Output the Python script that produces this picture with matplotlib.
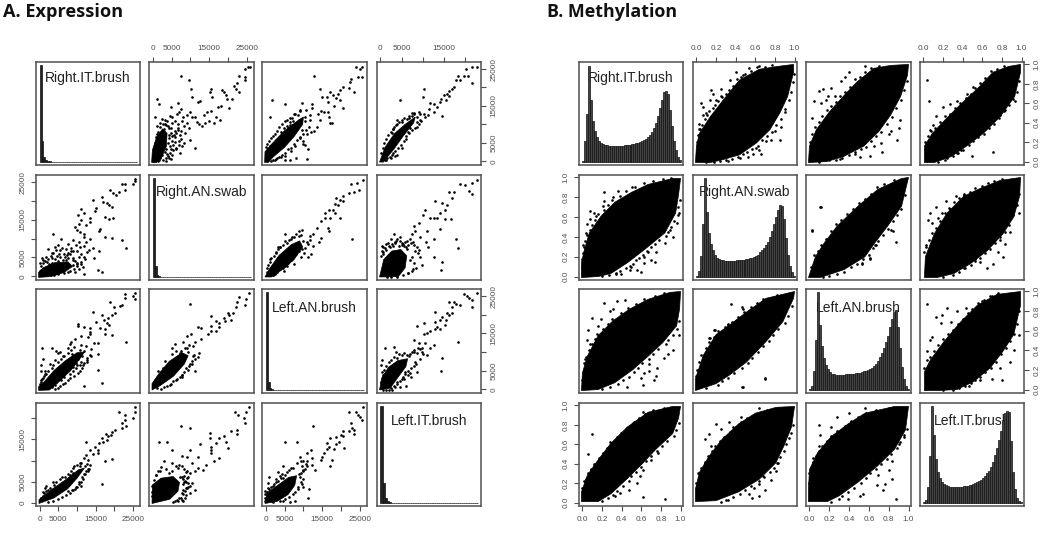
import numpy as np
import matplotlib
matplotlib.use('Agg')
import matplotlib.pyplot as plt

W, H = 1050, 533
GRAY = '#505050'

names = ['Right.IT.brush', 'Right.AN.swab', 'Left.AN.brush', 'Left.IT.brush']

# --- expression: upper triangle pairs, x is the later sample, y the earlier one
ran_rit_x = [25400,24500,25800,24500,24500,22900,22500,21700,22100,22800,7500,9700,10100,10300,15400,15200,15800,18500,18900,19500,19600,21000,20300,18200,17300,12600,11900,1200,1600,600,6600,4900,7400,14300,15400,13600,16800,17900,16400,15000,13900,13000,12400,11100,9900,10400,11200,9000,11700,9500,8600,9900,7700,7300,4800,3500,
             4000,5000,6000,5200,6800,5800,7200,6000,5000,7800,8400,6500,7000,8000,4500,3800,3300,5600,7000,8300,6200,4800,3800,5200,4300,4900,6600,7500,9000,4400]
ran_rit_y = [25660,25130,25500,22800,22100,23000,21150,20350,19700,18900,23200,21950,19500,17400,19550,18700,17500,19300,18700,18050,16900,16800,14400,15000,14700,16300,16000,16800,15600,12000,15800,14600,14250,13400,13600,12500,11900,11150,10250,11000,10450,9560,10100,3600,13400,12000,11900,12500,10700,8900,7600,5800,4100,2300,500,100,
             9500,10500,11000,12000,9000,8200,7000,6500,5500,10800,9600,12800,13300,12000,12200,11000,10000,7200,5500,5000,3600,3300,2000,1800,800,9000,10000,8300,10500,7000]
ran_rit_x += [200,500,900,1500,2000,2800,3300,4200,4800,1200,1800,2400,3000,3600,4400,5200,5800,600,1000,1600,2200,2900,3500,4100,4700,5400,6100,6800,7600,2000,2700,3400,4000,4600,5500,6300,7000,300,1300,1700,2500,3200,900,1500,2100]
ran_rit_y += [3800,5000,6500,8000,9300,10000,11200,9000,7600,9500,10500,11500,8800,9900,6200,6800,5200,1200,7500,4200,2000,6200,3200,5000,4100,3000,7700,8400,6000,800,300,1000,1500,2300,4500,3300,4300,100,200,300,1800,2600,4200,2500,3500]
ran_rit_core_x = [-300,-100,1000,2600,3800,3600,2300,1000]
ran_rit_core_y = [-300,3000,6500,8800,7600,4000,1000,-300]

lan_rit_x = [24100,25700,25100,24500,25600,12800,22700,22300,22100,23500,20400,19800,19200,17200,17900,18700,19800,14900,16300,16500,18100,20600,14500,15400,16500,14800,13900,16800,17000,17500,14300,13500,12100,12800,12300,12400,9500,5200,1600,1000,11200,11000,8000,6500,5000,9900,10300,7400,6400,9000,10800,11700,10400,
             8800,8000,7000,6000,10500,9500,9000,5000,4000,3000,2500,1500,11000,9800,7800,6800]
lan_rit_y = [25660,25500,25100,22900,22900,23200,22200,21500,19800,18800,20200,19300,18200,18700,18000,17200,16700,17500,17500,16200,15100,14400,19500,13400,13400,13500,12900,11900,10250,10250,11150,9400,8050,8300,15600,14500,15750,15600,16700,12000,3400,530,970,350,350,5400,4300,12700,11600,13800,13800,12500,12000,
             11300,10300,9800,9000,10800,8600,6500,1500,1300,1000,300,200,7500,4800,4200,2700]
lan_rit_x += [100,400,800,1300,1800,2400,3000,3600,4300,5000,5700,6400,7100,7800,8500,9200,2000,2800,3500,4200,5000,5800,6600,7400,8200,9000,9800,10600,11400,11800,600,1200,1900,2600,3400,4100,4900,5600,6500,7300]
lan_rit_y += [4000,4800,5400,6200,6800,7500,8200,9200,10200,10800,11300,10700,11800,12800,12600,13500,300,500,1200,1800,2300,3200,3500,4800,5700,6200,7500,8400,9300,11200,3300,4100,3900,5800,6600,8000,8900,9600,9900,11000]
lan_rit_core_x = [-300,-200,1500,5000,8500,10000,9800,7600,5000,2000,700]
lan_rit_core_y = [-300,2600,4600,8300,11000,12000,10000,6800,3800,1200,-300]

lit_rit_x = [20200,21500,22800,21600,20700,19600,18800,17800,18300,17200,16800,16100,15700,16200,14900,14300,14100,15400,14500,13300,12500,11700,11500,12500,10300,10000,4500,11300,10200,9000,8000,9400,8600,4000,3700,7000,10500,
             2700,3000,5000,6800,7500,8600,3000,3500,6000,6500,5000,1200,2500,4000]
lit_rit_y = [25100,25660,25500,21200,23000,23000,22100,22000,23100,20200,19500,19100,18200,17800,18000,16900,16000,16600,12300,14700,15600,15750,14250,13400,19500,17500,16700,12500,12900,13400,12900,11150,10700,11150,9800,8900,12000,
             7600,8700,10600,11800,12400,9200,2300,1500,6800,8000,3500,300,1000,1800]
lit_rit_x += [100,500,900,1400,1900,2400,2900,3300,3800,4400,5000,5600,6200,6800,7400,8000,8600,9200,1000,1600,2200,2800,3500,4100,4800,5500,6100,6800,7500,8200,9000,9500]
lit_rit_y += [2200,3600,4900,6000,7000,8000,8800,9400,10100,10600,11100,11600,11400,12200,13000,13200,12100,12700,300,800,1200,1700,2800,3700,4400,5400,6000,7700,8400,9000,10000,10900]
lit_rit_core_x = [-200,1100,3300,5800,8200,7800,5400,3300,700]
lit_rit_core_y = [-200,3800,7500,10000,12000,10400,6900,3500,-200]

lan_ran_x = [25800,24250,22600,24800,23400,22100,20500,19800,18600,18300,19200,20500,16800,17900,18300,15700,14800,15700,17000,19600,16800,16500,13500,12600,11700,22900,14800,14200,12600,12100,11100,9600,5000,3300,11200,9900,
             1200,2600,3800,6800,8800,10200,7600,9400,5600,4800,2500]
lan_ran_y = [25600,24700,24400,23000,22500,22100,21200,20200,20800,19200,18900,19900,17700,17700,16900,16900,14700,15500,15500,15400,12100,12900,12900,11200,10700,9800,10100,9000,7950,5900,5100,12200,11200,7250,8600,9400,
             4500,6300,7800,10000,10600,6200,3300,5000,2600,1400,700]
lan_ran_x += [200,600,1000,1500,2100,2700,3300,3900,4500,5100,5700,6300,6900,7500,8100,8700,9300,1800,2400,3100,3800,4500,5200,5900,6600,7300,8000,8800,9600,10400,11000,11800,1200,2000,400]
lan_ran_y += [2200,3000,3700,4800,5500,6500,7700,7900,8300,9400,8900,9700,10300,10500,11300,12000,11000,300,800,1200,1800,2200,2800,3400,4400,5300,5800,6800,7200,7600,9000,9700,400,300,1000]
lan_ran_core_x = [-200,1000,3500,6800,9000,9800,7500,4000,1500]
lan_ran_core_y = [-200,2000,5500,8400,9400,7800,4400,1500,-200]

lit_ran_x = [22750,21600,20000,18800,20800,21600,17200,16200,16900,12900,14500,15700,15300,14100,10600,10000,12500,13300,15300,16600,11700,9000,7800,8200,7400,3100,13900,10900,9400,12500,11100,17800,18300,12500,14500,14300,2300,8600,9400,6200,4600,10800,
             8000,7200,9000,6000,5000,3400,7400,6600,300,600,1200,9800,8400]
lit_ran_y = [25600,24700,24300,24500,22700,21900,22500,22300,20800,20100,19500,18900,17700,16900,17700,16400,15500,15400,15100,15300,15400,14200,13400,12100,11200,11200,12500,12100,10300,9900,7700,9800,7400,5100,3800,1750,7700,7700,5100,9400,9400,9000,
             8200,8800,6900,7800,8800,9200,1300,800,8000,6500,7000,3000,2300]
lit_ran_x += [100,300,700,1200,1800,2400,3000,3500,4000,4600,5200,5800,6400,7000,7600,8200,8800,500,1000,2100,2800,3600,4400,5000,5600,6200,7000,7500,7900,1500,2600,3900,5300,6500,7600]
lit_ran_y += [5500,6800,7900,8600,8900,9800,8100,8700,9900,10400,8600,9100,8200,9800,9000,6800,6200,6000,7400,8000,8500,9300,8000,8300,8000,7200,4400,5200,3600,-100,-150,-200,200,800,1900]
lit_ran_core_x = [-200,800,2700,4800,6200,5800,4200,-200]
lit_ran_core_y = [-200,4500,6700,7100,5400,2200,-100,-200]

lit_lan_x = [22750,19600,20400,20900,21600,21600,16200,17200,17700,18800,16900,12900,16900,15700,16100,14500,15500,13900,12800,15300,14100,13300,12800,11700,10900,10200,8600,10200,7800,9000,12500,11700,10900,9800,10600,18300,14500,14300,1000,3200,3700,300,250,300,6100,4600,8600,6900,5800,
             8800,7800,7000,8200,10000,9400,5600,6400,7200]
lit_lan_y = [25900,25500,25000,24500,24000,22050,23500,23500,23000,22600,22200,20800,20400,20400,19900,19500,18600,18600,18100,17200,16300,16800,16300,15600,15000,17700,17000,14700,13200,12300,11900,11000,9200,11000,12300,12600,8300,5000,11200,11400,9900,7900,6500,4700,900,700,4700,4300,4500,
             11000,10000,9400,7200,9400,8200,2700,3800,3300]
lit_lan_x += [100,500,900,1400,2000,2600,3200,3800,4400,5000,5600,6200,6800,7400,8000,8600,9200,9800,2600,3200,3800,4500,5200,5900,6600,7200,7800,8300,2000,2800,3500,500,1200,4000,5000]
lit_lan_y += [2000,3700,5200,6300,7200,7900,8600,8500,9500,9300,9800,9100,8900,9900,10500,9600,10800,9900,300,800,1500,2300,3300,4000,5000,5600,6300,6800,-100,-150,500,-100,-200,2000,2700]
lit_lan_core_x = [-200,300,1900,4100,6400,6000,4000,2300]
lit_lan_core_y = [-200,3000,5900,7700,8200,6100,3000,300]

# expression histograms, share of panel height for bins of 500
hist_rit = [.94,.2,.05,.02,.01,.005] + [0]*46
hist_ran = [.94,.1,.02,.005] + [0]*48
hist_lan = [.94,.07,.02,.005] + [0]*48
hist_lit = [.94,.19,.05,.02,.01] + [0]*41

# --- methylation, same pairing
m_ran_rit_core_x = [-.01,0,.03,.14,.27,.44,.64,.83,.99,.99,.93,.85,.75,.61,.44,.27,.14]
m_ran_rit_core_y = [-.01,.16,.29,.46,.63,.84,.95,.98,1,.92,.67,.5,.33,.19,.07,.02,-.01]
m_ran_rit_x = [.05,.03,.15,.17,.25,.4,.34,.25,.14,.07,.1,.2,.07,.03,.47,.54,.64,.86,.85,.76,.66,.64,.53,.32,.8,.71,.61,.58,.44,.9]
m_ran_rit_y = [.6,.39,.74,.7,.75,.92,.84,.67,.63,.56,.5,.63,.48,.34,.89,.96,.98,.36,.22,.22,.08,.12,.05,.01,.31,.21,.14,.08,.04,.51]
m_ran_rit_x += [.01,.02,.04,.06,.09,.11,.13,.17,.19,.22,.26,.3,.33,.37,.41,.45,.5,.56,.62,.7,.77,.1,.18,.24,.3,.36,.42,.47,.52,.57,.63,.67,.72,.77,.81,.86,.9,.94,.96,.98,.995]
m_ran_rit_y += [.2,.27,.34,.38,.44,.48,.52,.55,.58,.62,.66,.7,.74,.78,.85,.87,.9,.93,.97,.97,.99,-.005,0,.005,.015,.03,.05,.08,.1,.13,.16,.22,.26,.3,.38,.44,.54,.63,.72,.82,.9]

m_lan_rit_core_x = [-.01,0,.07,.2,.34,.48,.65,.82,1,.99,.92,.82,.7,.55,.34,.17]
m_lan_rit_core_y = [-.01,.16,.33,.51,.67,.82,.96,.99,1,.89,.67,.48,.31,.16,.05,0]
m_lan_rit_x = [.05,.03,.1,.14,.17,.22,.32,.4,.56,.36,.26,.19,.12,.9,.88,.82,.8,.73,.61,.51,.46,.72,.65,.91,.31]
m_lan_rit_y = [.62,.45,.73,.75,.63,.76,.83,.92,.98,.87,.68,.68,.6,.35,.22,.31,.28,.1,.06,.05,.08,.19,.16,.43,.03]
m_lan_rit_x += [.01,.03,.06,.1,.13,.18,.22,.27,.31,.36,.41,.46,.51,.56,.62,.7,.1,.2,.27,.33,.4,.46,.52,.57,.62,.67,.72,.78,.83,.87,.92,.95,.98]
m_lan_rit_y += [.2,.28,.36,.41,.47,.53,.57,.61,.68,.72,.77,.85,.87,.92,.96,.98,-.005,.015,.02,.035,.07,.1,.13,.15,.21,.26,.3,.39,.46,.55,.63,.74,.83]

m_lit_rit_core_x = [.01,.01,.09,.24,.41,.55,.71,.87,.99,.99,.93,.78,.61,.44,.28,.11]
m_lit_rit_core_y = [-.01,.16,.29,.45,.62,.75,.92,.98,1,.92,.67,.46,.29,.16,.05,-.01]
m_lit_rit_x = [.04,.06,.2,.27,.13,.1,.07,.71,.5,.93,.83,.78,.34,.44,.51,.38,.34,.24]
m_lit_rit_y = [.84,.62,.56,.59,.47,.38,.33,.1,.06,.62,.53,.48,.62,.7,.77,.12,.09,.04]
m_lit_rit_x += [.02,.05,.08,.12,.17,.22,.27,.32,.37,.43,.48,.53,.58,.63,.69,.75,.82,.15,.22,.3,.35,.4,.46,.51,.56,.62,.67,.72,.77,.82,.87,.91,.95,.97]
m_lit_rit_y += [.2,.26,.31,.35,.41,.47,.49,.55,.6,.65,.7,.76,.81,.86,.93,.95,.98,-.005,.02,.06,.09,.12,.17,.21,.25,.28,.35,.39,.45,.52,.58,.64,.72,.83]

m_lan_ran_core_x = [-.01,.06,.15,.28,.49,.69,.93,1,.93,.79,.66,.56,.35,.11]
m_lan_ran_core_y = [-.01,.2,.34,.51,.71,.88,.99,1,.71,.51,.34,.2,.07,-.01]
m_lan_ran_x = [.12,.03,.61,.87,.82,.67,.53,.84,.11,.61,.66,.53,.53,.03]
m_lan_ran_y = [.7,.47,.19,.35,.47,.32,.13,.46,.7,.18,.32,.14,.22,.46]
m_lan_ran_x += [.02,.05,.09,.12,.17,.22,.27,.32,.38,.44,.5,.56,.62,.68,.75,.85,.14,.2,.28,.35,.42,.48,.54,.6,.64,.69,.74,.79,.84,.88,.92,.96]
m_lan_ran_y += [.1,.22,.26,.32,.38,.46,.53,.57,.63,.68,.74,.78,.83,.9,.93,.97,-.005,.01,.03,.05,.1,.13,.18,.22,.29,.36,.42,.48,.56,.62,.68,.82]

m_lit_ran_core_x = [.01,.02,.11,.24,.41,.58,.78,.99,.98,.92,.81,.65,.48,.31,.14]
m_lit_ran_core_y = [-.01,.2,.43,.64,.81,.89,.97,1,.81,.6,.43,.26,.13,.03,-.01]
m_lit_ran_x = [.23,.13,.07,.05,.03,.09,.19,.33,.41,.8,.9,.97,.81,.76,.71,.65,.58,.53,.88,.83,.78,.41,.26,.15]
m_lit_ran_y = [.76,.7,.64,.57,.32,.54,.64,.81,.82,.98,.67,.64,.2,.25,.13,.09,.15,.18,.45,.33,.37,.09,.69,.59]
m_lit_ran_x += [.01,.03,.06,.09,.13,.17,.22,.27,.31,.36,.41,.47,.53,.6,.66,.72,.2,.3,.36,.42,.48,.53,.58,.63,.68,.73,.78,.83,.87,.91,.95,.97]
m_lit_ran_y += [.25,.3,.37,.44,.49,.56,.64,.68,.75,.79,.83,.85,.89,.91,.94,.96,-.005,.02,.05,.09,.12,.16,.19,.24,.28,.34,.4,.45,.52,.62,.72,.83]

m_lit_lan_core_x = [.01,.01,.07,.21,.38,.55,.75,.99,.99,.92,.81,.68,.51,.34,.14]
m_lit_lan_core_y = [-.01,.18,.3,.49,.69,.86,.97,1,.86,.56,.39,.22,.08,0,-.01]
m_lit_lan_x = [.04,.13,.19,.24,.34,.43,.6,.7,.07,.04,.09,.18,.28,.8,.7,.78,.92,.97,.88,.61,.58,.46,.41]
m_lit_lan_y = [.87,.74,.76,.83,.8,.83,.9,.95,.51,.39,.54,.68,.69,.1,.11,.22,.4,.56,.28,.18,.1,.04,.1]
m_lit_lan_x += [.01,.04,.07,.11,.15,.2,.25,.3,.35,.4,.45,.5,.56,.62,.68,.76,.2,.3,.36,.42,.48,.53,.58,.63,.69,.74,.79,.84,.88,.92,.95,.97]
m_lit_lan_y += [.22,.3,.33,.39,.45,.52,.57,.61,.67,.72,.78,.82,.88,.91,.95,.98,-.005,0,.02,.04,.07,.1,.13,.18,.22,.28,.36,.42,.49,.57,.67,.8]

m_hist_rit = [.01,.2,.46,.93,.6,.4,.3,.24,.2,.18,.17,.165,.16,.155,.155,.155,.155,.155,.155,.155,.155,.16,.16,.165,.165,.17,.175,.18,.185,.195,.205,.215,.225,.24,.26,.29,.33,.38,.44,.52,.6,.68,.69,.66,.5,.35,.2,.11,.05,.015]
m_hist_ran = [.005,.05,.2,.5,.94,.62,.42,.31,.25,.21,.18,.17,.16,.155,.15,.15,.15,.15,.15,.15,.155,.155,.155,.16,.16,.165,.17,.175,.18,.19,.2,.21,.23,.25,.27,.3,.33,.38,.43,.5,.57,.63,.68,.67,.55,.37,.21,.1,.04,.01]
m_hist_lan = [.005,.04,.18,.48,.94,.62,.42,.3,.24,.2,.17,.155,.15,.145,.145,.145,.145,.145,.15,.15,.15,.155,.155,.16,.16,.165,.17,.175,.18,.19,.2,.21,.23,.25,.28,.31,.35,.4,.46,.52,.6,.68,.75,.77,.6,.4,.22,.1,.04,.01]
m_hist_lit = [.005,.03,.15,.45,.94,.66,.42,.3,.24,.2,.18,.17,.16,.155,.155,.155,.155,.155,.155,.155,.16,.16,.165,.17,.175,.18,.19,.2,.21,.225,.24,.26,.285,.31,.35,.4,.46,.53,.61,.7,.8,.87,.89,.88,.6,.3,.13,.05,.02,.005]

expr_pairs = {(0, 1): (ran_rit_x, ran_rit_y, ran_rit_core_x, ran_rit_core_y),
              (0, 2): (lan_rit_x, lan_rit_y, lan_rit_core_x, lan_rit_core_y),
              (0, 3): (lit_rit_x, lit_rit_y, lit_rit_core_x, lit_rit_core_y),
              (1, 2): (lan_ran_x, lan_ran_y, lan_ran_core_x, lan_ran_core_y),
              (1, 3): (lit_ran_x, lit_ran_y, lit_ran_core_x, lit_ran_core_y),
              (2, 3): (lit_lan_x, lit_lan_y, lit_lan_core_x, lit_lan_core_y)}
meth_pairs = {(0, 1): (m_ran_rit_x, m_ran_rit_y, m_ran_rit_core_x, m_ran_rit_core_y),
              (0, 2): (m_lan_rit_x, m_lan_rit_y, m_lan_rit_core_x, m_lan_rit_core_y),
              (0, 3): (m_lit_rit_x, m_lit_rit_y, m_lit_rit_core_x, m_lit_rit_core_y),
              (1, 2): (m_lan_ran_x, m_lan_ran_y, m_lan_ran_core_x, m_lan_ran_core_y),
              (1, 3): (m_lit_ran_x, m_lit_ran_y, m_lit_ran_core_x, m_lit_ran_core_y),
              (2, 3): (m_lit_lan_x, m_lit_lan_y, m_lit_lan_core_x, m_lit_lan_core_y)}
expr_hists = [hist_rit, hist_ran, hist_lan, hist_lit]
meth_hists = [m_hist_rit, m_hist_ran, m_hist_lan, m_hist_lit]

expr_lims = [(-1000, 26900), (-1000, 26900), (-1000, 26900), (-800, 23650)]
meth_lims = [(-.035, 1.025)] * 4
expr_ticks = [np.arange(0, 25001, 5000)] * 3 + [np.arange(0, 20001, 5000)]
meth_ticks = [np.arange(0, 1.01, .2)] * 4
expr_shown = {0: '0', 5000: '5000', 15000: '15000', 25000: '25000'}

rows_px = [(62, 165), (175, 280), (289, 393), (403, 506)]
a_cols_px = [(36, 140), (149, 254), (262, 367), (377, 481)]
b_cols_px = [(579, 683), (693, 797), (806, 911), (920, 1024)]
label_dy_px = [16, 17, 19, 18]

fig = plt.figure(figsize=(W / 100, H / 100), dpi=100)


def tick_labels(ticks, is_expr):
    if is_expr:
        return [expr_shown.get(int(t), '') for t in ticks]
    return ['%.1f' % t for t in ticks]


def draw_matrix(cols_px, pairs, hists, lims, ticks, is_expr, bin_w):
    for r in range(4):
        for c in range(4):
            x0, x1 = cols_px[c]
            y0, y1 = rows_px[r]
            ax = fig.add_axes([x0 / W, 1 - y1 / H, (x1 - x0) / W, (y1 - y0) / H])
            ax.set_xlim(lims[c])
            if r == c:
                ax.set_ylim(-.032, .968)
                ax.set_xticks([])
                ax.set_yticks([])
                ax.text(.5, 1 - label_dy_px[r] / (y1 - y0), names[r], transform=ax.transAxes,
                        ha='center', va='center', fontsize=10, family='Liberation Sans',
                        color='#222222', zorder=1)
                vals = hists[r]
                ax.bar(np.arange(len(vals)) * bin_w, vals, width=bin_w, align='edge',
                       facecolor='#444444' if not is_expr else '#222222',
                       edgecolor='#111111', linewidth=.5, zorder=2)
            else:
                ax.set_ylim(lims[r])
                key = (min(r, c), max(r, c))
                px, py, cx, cy = pairs[key]
                if r > c:
                    px, py, cx, cy = py, px, cy, cx
                ax.fill(cx, cy, color='black', lw=.5, zorder=2)
                ax.scatter(px, py, s=3.6, c='black', linewidths=0, zorder=3)
                ax.set_xticks(ticks[c])
                ax.set_yticks(ticks[r])
                ax.set_xticklabels(tick_labels(ticks[c], is_expr))
                ax.set_yticklabels(tick_labels(ticks[r], is_expr), rotation=90, va='center')
                top_side = c % 2 == 1
                right_side = r % 2 == 0
                show_x = (r == 0 and top_side) or (r == 3 and not top_side)
                show_y = (c == 3 and right_side) or (c == 0 and not right_side)
                ax.tick_params(axis='x', bottom=show_x and not top_side, top=show_x and top_side,
                               labelbottom=show_x and not top_side, labeltop=show_x and top_side,
                               length=3.6, width=.8, color=GRAY, labelsize=5.9, labelcolor=GRAY, pad=3.5)
                ax.tick_params(axis='y', left=show_y and not right_side, right=show_y and right_side,
                               labelleft=show_y and not right_side, labelright=show_y and right_side,
                               length=3.6, width=.8, color=GRAY, labelsize=5.9, labelcolor=GRAY, pad=3.5)
                for lab in ax.get_xticklabels() + ax.get_yticklabels():
                    lab.set_family('Liberation Sans')
            for side in ax.spines.values():
                side.set_color(GRAY)
                side.set_linewidth(1.1)


draw_matrix(a_cols_px, expr_pairs, expr_hists, expr_lims, expr_ticks, True, 500)
draw_matrix(b_cols_px, meth_pairs, meth_hists, meth_lims, meth_ticks, False, .02)

fig.text(3 / W, 1 - 12 / H, 'A. Expression', fontsize=13.1, fontweight='bold',
         family='Open Sans', color='#111111', va='center')
fig.text(547 / W, 1 - 12 / H, 'B. Methylation', fontsize=12.9, fontweight='bold',
         family='Open Sans', color='#111111', va='center')

fig.savefig('out.png', dpi=100)
